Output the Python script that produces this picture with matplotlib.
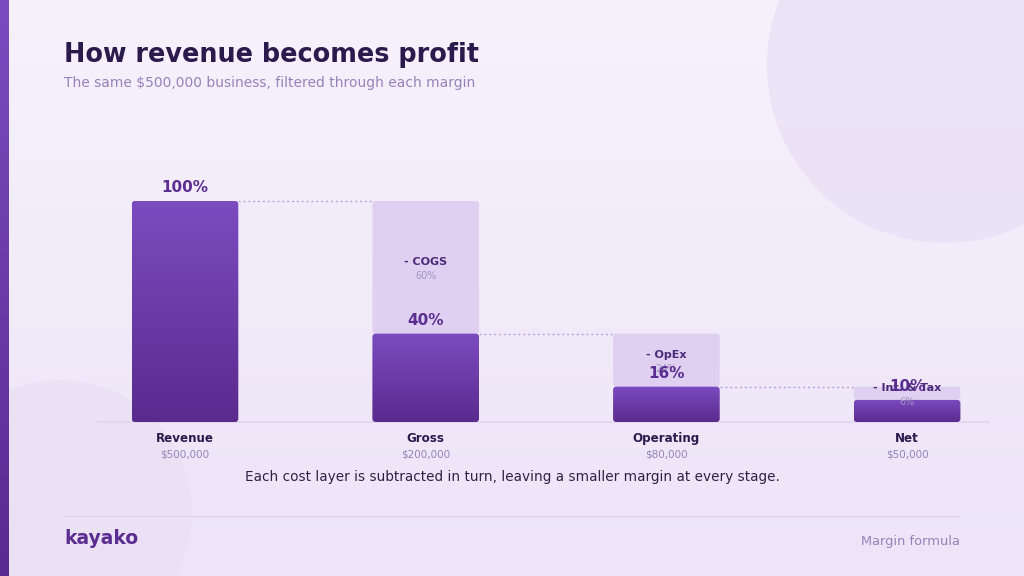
import matplotlib
matplotlib.use("Agg")
import matplotlib.pyplot as plt
import numpy as np
from matplotlib.patches import FancyBboxPatch, Circle
from matplotlib.colors import LinearSegmentedColormap

# ---- data ----
categories = ["Revenue", "Gross", "Operating", "Net"]
dollar_values = ["$500,000", "$200,000", "$80,000", "$50,000"]
margin_pct = [100, 40, 16, 10]
cost_labels = [None, "- COGS", "- OpEx", "- Int. & Tax"]
cost_pct = [None, 60, 24, 6]

W, H = 1024, 576
fig = plt.figure(figsize=(W / 100, H / 100), dpi=100)

# background
bg = fig.add_axes([0, 0, 1, 1])
bg.set_xlim(0, W)
bg.set_ylim(H, 0)
bg.axis("off")
grad = np.linspace(0, 1, 256).reshape(-1, 1)
bg_cmap = LinearSegmentedColormap.from_list("bg", ["#f6f2fc", "#ede4f8"])
bg.imshow(grad, cmap=bg_cmap, extent=[0, W, H, 0], aspect="auto", zorder=0)
bg.add_patch(Circle((945, 65), 178, color="#e9e0f5", alpha=0.8, zorder=1, lw=0))
bg.add_patch(Circle((60, 512), 132, color="#ebe0f5", alpha=0.8, zorder=1, lw=0))
strip_cmap = LinearSegmentedColormap.from_list("strip", ["#7b4cc0", "#5a2a91"])
bg.imshow(grad, cmap=strip_cmap, extent=[0, 9, H, 0], aspect="auto", zorder=2)

bg.text(64, 55, "How revenue becomes profit", fontsize=18.4, fontweight="bold",
        color="#2a1b4d", va="center", ha="left", zorder=5)
bg.text(64, 83, "The same $500,000 business, filtered through each margin", fontsize=10,
        color="#9484b8", va="center", ha="left", zorder=5)
bg.text(512, 477, "Each cost layer is subtracted in turn, leaving a smaller margin at every stage.",
        fontsize=9.8, color="#2e2345", va="center", ha="center", zorder=5)
bg.plot([64, 960], [516, 516], color="#ddd2ea", lw=0.9, zorder=5)
bg.text(64, 539, "kayako", fontsize=13.5, fontweight="bold", color="#5b2d91",
        va="center", ha="left", zorder=5)
bg.text(960, 541, "Margin formula", fontsize=9.4, color="#9484b8",
        va="center", ha="right", zorder=5)

# chart axes
spacing = 240.7
c0 = 185.0
x_left = c0 - 0.3 * spacing
x_right = c0 + 3.3 * spacing
ppy = 2.21
base_px, top_px = 422, 422 - 110 * ppy
ax = fig.add_axes([x_left / W, 1 - base_px / H, (x_right - x_left) / W, (base_px - top_px) / H])
ax.set_xlim(-0.3, 3.3)
ax.set_ylim(0, 110)
ax.axis("off")
ax.patch.set_alpha(0)

bw = 0.443
asp = spacing / ppy
rs = 0.013
bar_cmap = LinearSegmentedColormap.from_list("bar", ["#5b2a8e", "#7b4cc0"])
x = np.arange(len(categories))

ax.plot([-0.36, 3.34], [0, 0], color="#e0d6ec", lw=1.2, zorder=1, clip_on=False)

for i, (c, v) in enumerate(zip(categories, margin_pct)):
    # ghost (removed cost) layer
    if cost_labels[i] is not None:
        prev = margin_pct[i - 1]
        ghost = FancyBboxPatch((x[i] - bw / 2, v), bw, prev - v,
                               boxstyle=f"round,pad=0,rounding_size={rs}",
                               mutation_aspect=asp,
                               fc="#dfd0f1", ec="none", zorder=2)
        ax.add_patch(ghost)
        mid = (v + prev) / 2
        ax.annotate(cost_labels[i], (x[i], mid), xytext=(0, 4), textcoords="offset points",
                    ha="center", va="center", fontsize=8, fontweight="bold",
                    color="#4a2a78", zorder=6)
        ax.annotate(f"{cost_pct[i]}%", (x[i], mid), xytext=(0, -6.5), textcoords="offset points",
                    ha="center", va="center", fontsize=7, color="#a295c0", zorder=6)
        # dotted connector from previous bar
        ax.plot([x[i - 1] + bw / 2, x[i] - bw / 2], [prev, prev], color="#b9a2d8",
                lw=1, ls=(0, (1.5, 2)), zorder=2)
    # solid bar with gradient
    patch = FancyBboxPatch((x[i] - bw / 2, 0), bw, v,
                           boxstyle=f"round,pad=0,rounding_size={rs}",
                           mutation_aspect=asp,
                           fc="none", ec="none", zorder=3)
    ax.add_patch(patch)
    im = ax.imshow(grad, cmap=bar_cmap, extent=[x[i] - bw / 2, x[i] + bw / 2, 0, v],
                   origin="lower", aspect="auto", zorder=3)
    im.set_clip_path(patch)
    ax.annotate(f"{v}%", (x[i], v), xytext=(0, 4), textcoords="offset points",
                ha="center", va="bottom", fontsize=11, fontweight="bold",
                color="#5b2d91", zorder=7)
    ax.annotate(c, (x[i], 0), xytext=(0, -12), textcoords="offset points",
                ha="center", va="center", fontsize=8.6, fontweight="bold",
                color="#2a1b4d", annotation_clip=False)
    ax.annotate(dollar_values[i], (x[i], 0), xytext=(0, -23.5), textcoords="offset points",
                ha="center", va="center", fontsize=7.5, color="#9484b8",
                annotation_clip=False)

ax.set_xlim(-0.3, 3.3)
ax.set_ylim(0, 110)

fig.savefig("out.png", dpi=100)
